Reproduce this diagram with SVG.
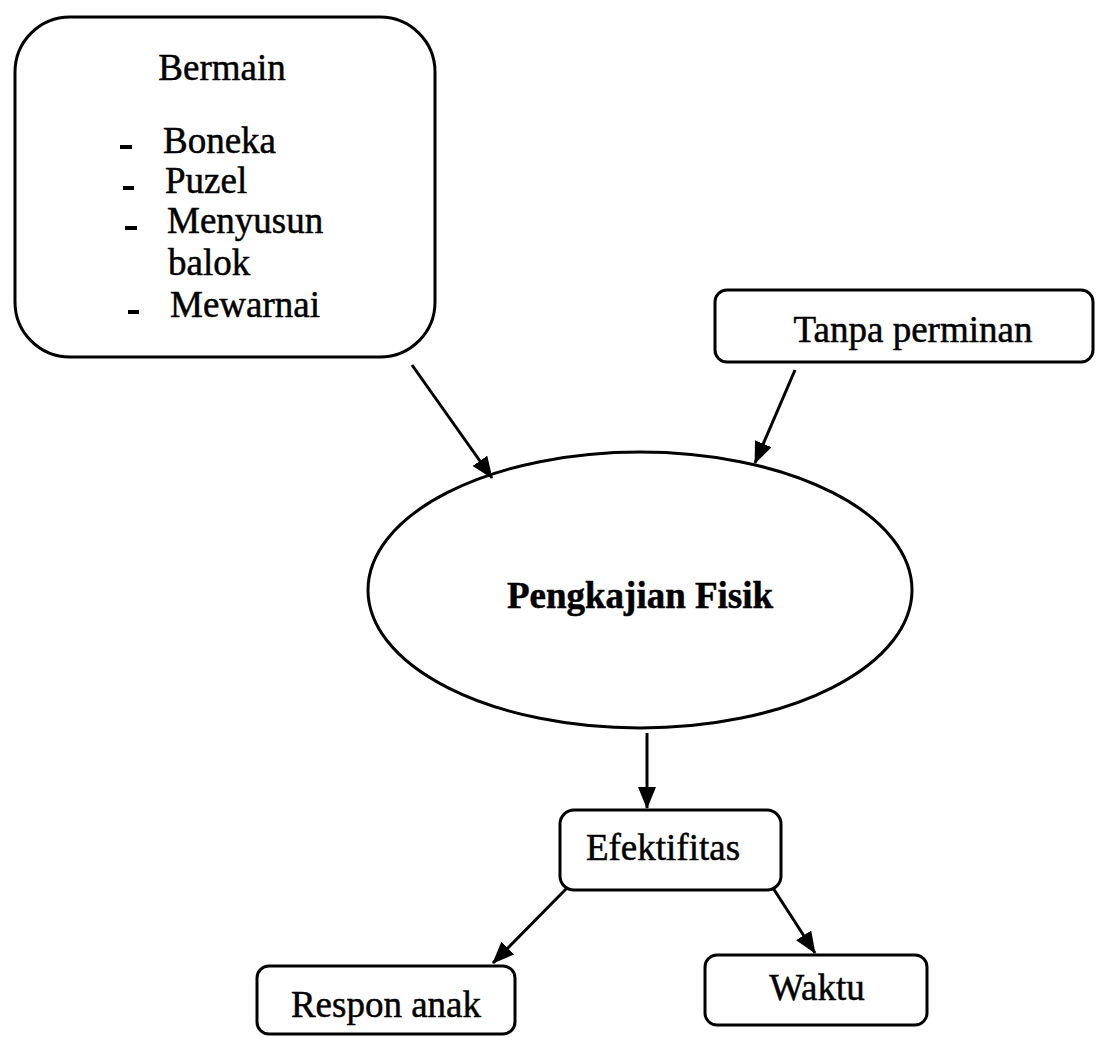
<svg xmlns="http://www.w3.org/2000/svg" width="1100" height="1037" viewBox="0 0 1100 1037">
<style>
.box{fill:#fff;stroke:#000;stroke-width:3}
.t{font-family:"Liberation Serif","Times New Roman",serif;font-size:37px;fill:#000;stroke:#000;stroke-width:0.5}
.b{font-weight:bold}
.c{text-anchor:middle}
.dash{stroke:#000;stroke-width:4}
.con{stroke:#000;stroke-width:3;fill:none}
</style>
<defs>
<marker id="arr" markerUnits="userSpaceOnUse" markerWidth="22" markerHeight="18" viewBox="0 0 22 18" refX="21" refY="9" orient="auto">
<path d="M0,0 L22,9 L0,18 Z" fill="#000"/>
</marker>
</defs>
<rect width="1100" height="1037" fill="#fff"/>
<g id="bermain">
<rect class="box" x="15" y="17" width="420" height="340" rx="55" ry="55"/>
<text class="t c" x="222" y="80">Bermain</text>
<line class="dash" x1="120" y1="147" x2="132" y2="147"/>
<text class="t" x="163" y="153">Boneka</text>
<line class="dash" x1="123" y1="188" x2="134" y2="188"/>
<text class="t" x="165" y="193">Puzel</text>
<line class="dash" x1="125" y1="228" x2="137" y2="228"/>
<text class="t" x="167" y="233">Menyusun</text>
<text class="t" x="168" y="275">balok</text>
<line class="dash" x1="128" y1="312" x2="139" y2="312"/>
<text class="t" x="170" y="317">Mewarnai</text>
</g>
<g id="tanpa">
<rect class="box" x="715" y="290" width="378" height="72" rx="12" ry="12"/>
<text class="t c" x="913" y="342">Tanpa perminan</text>
</g>
<g id="pengkajian">
<ellipse class="box" cx="640" cy="590" rx="272" ry="138"/>
<text class="t b c" x="640" y="608">Pengkajian Fisik</text>
</g>
<g id="efektifitas">
<rect class="box" x="560" y="810" width="221" height="80" rx="14" ry="14"/>
<text class="t c" x="663" y="860">Efektifitas</text>
</g>
<g id="respon">
<rect class="box" x="257" y="966" width="258" height="68" rx="12" ry="12"/>
<text class="t c" x="386" y="1017">Respon anak</text>
</g>
<g id="waktu">
<rect class="box" x="705" y="955" width="222" height="70" rx="12" ry="12"/>
<text class="t c" x="817" y="1000">Waktu</text>
</g>
<g id="connectors">
<line class="con" x1="412" y1="365" x2="492" y2="478" marker-end="url(#arr)"/>
<line class="con" x1="795" y1="370" x2="755" y2="463" marker-end="url(#arr)"/>
<line class="con" x1="647" y1="733" x2="647" y2="808" marker-end="url(#arr)"/>
<line class="con" x1="567" y1="888" x2="493" y2="963" marker-end="url(#arr)"/>
<line class="con" x1="773" y1="888" x2="815" y2="953" marker-end="url(#arr)"/>
</g>
</svg>
